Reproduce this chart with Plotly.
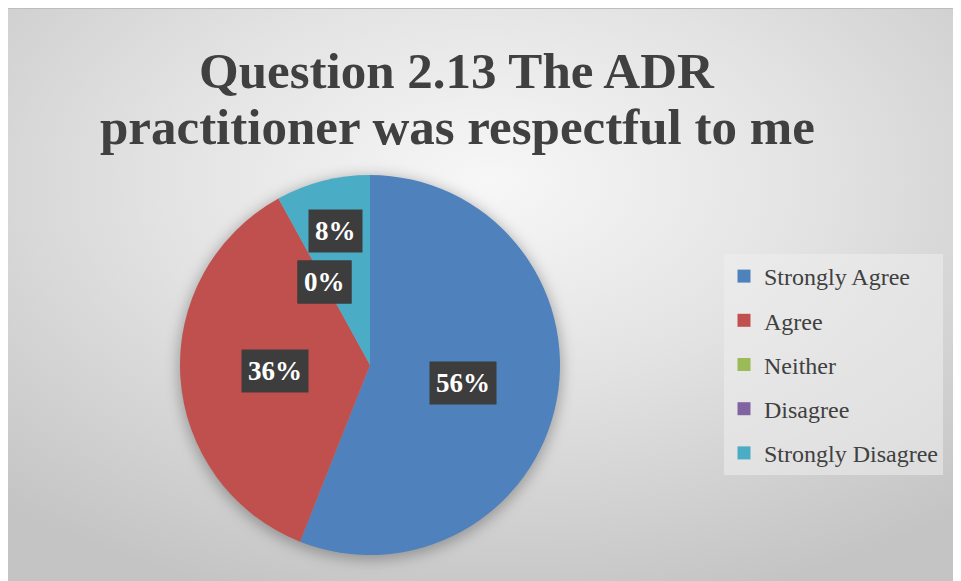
import math
import urllib.parse
import plotly.graph_objects as go

# ---- data ----
categories = ["Strongly Agree", "Agree", "Neither", "Disagree", "Strongly Disagree"]
counts = [14, 9, 0, 0, 2]
colors = ["#4F81BD", "#C0504D", "#9BBB59", "#8064A2", "#4BACC6"]
title_lines = ["Question 2.13 The ADR", "practitioner was respectful to me"]

# ---- layout constants (pixels, in figure coordinates) ----
W, H = 961, 581
CX, CY, R = 362, 357, 190          # pie centre / radius
label_rad = [0.5, 0.5, 0.5, 0.5, 0.73]


def px(x):
    return x / W


def py(y):
    return 1 - y / H


# background: radial gradient + pie shadow as inline SVG
svg = f'''<svg xmlns="http://www.w3.org/2000/svg" width="{W}" height="{H}" viewBox="0 0 {W} {H}">
<defs>
<radialGradient id="g" cx="50%" cy="30%" r="75%">
<stop offset="0%" stop-color="#f7f7f7"/>
<stop offset="45%" stop-color="#e3e3e3"/>
<stop offset="100%" stop-color="#c4c4c4"/>
</radialGradient>
<filter id="b" x="-20%" y="-20%" width="140%" height="140%"><feGaussianBlur stdDeviation="7"/></filter>
</defs>
<rect x="0" y="0" width="{W}" height="{H}" fill="url(#g)"/>
<rect x="0" y="0" width="{W}" height="1" fill="#bdbdbd"/>
<circle cx="{CX}" cy="{CY + 3}" r="{R + 2}" fill="#000" fill-opacity="0.28" filter="url(#b)"/>
</svg>'''
img_src = "data:image/svg+xml;charset=utf-8," + urllib.parse.quote(svg)

fig = go.Figure()
fig.add_trace(go.Pie(
    labels=categories, values=counts, sort=False, direction="clockwise", rotation=0,
    marker=dict(colors=colors, line=dict(width=0)),
    textinfo="none", hoverinfo="label+percent", showlegend=False,
    domain=dict(x=[px(CX - R), px(CX + R)], y=[py(CY + R), py(CY - R)]),
))

# legend entries (square markers) as dummy traces
for i, (c, col) in enumerate(zip(categories, colors)):
    fig.add_trace(go.Scatter(
        x=[None], y=[None], mode="markers", name=c,
        marker=dict(symbol="square", size=13, color=col),
        legendgroup=f"g{i}", showlegend=True,
    ))

# percentage labels computed from the data
total = sum(counts)
cum = 0
annotations = []
for v, rf in zip(counts, label_rad):
    mid = (cum + v / 2) / total * 2 * math.pi
    cum += v
    lx = CX + rf * R * math.sin(mid)
    ly = CY - rf * R * math.cos(mid)
    annotations.append(dict(
        x=px(lx), y=py(ly), xref="paper", yref="paper",
        text=f"<b>{round(v / total * 100)}%</b>", showarrow=False,
        font=dict(family="Liberation Serif", size=27, color="white"),
        bgcolor="#3d3d3d", borderpad=6, xanchor="center", yanchor="middle",
    ))

# title lines
for txt, yc in zip(title_lines, [63, 119]):
    annotations.append(dict(
        x=px(449), y=py(yc), xref="paper", yref="paper",
        text=f"<b>{txt}</b>", showarrow=False,
        font=dict(family="Liberation Serif", size=51, color="#404040"),
        xanchor="center", yanchor="middle",
    ))

fig.update_layout(
    width=W, height=H,
    margin=dict(l=0, r=0, t=0, b=0),
    paper_bgcolor="white", plot_bgcolor="rgba(0,0,0,0)",
    images=[dict(source=img_src, xref="paper", yref="paper", x=0, y=1,
                 sizex=1, sizey=1, sizing="stretch", layer="below",
                 xanchor="left", yanchor="top")],
    xaxis=dict(visible=False), yaxis=dict(visible=False),
    legend=dict(x=px(716), y=py(246), xanchor="left", yanchor="top",
                bgcolor="rgba(238,238,238,0.55)", borderwidth=0,
                font=dict(family="Liberation Serif", size=24, color="#404040"),
                tracegroupgap=10, itemwidth=30),
    annotations=annotations,
)

fig.write_html("out.html")
